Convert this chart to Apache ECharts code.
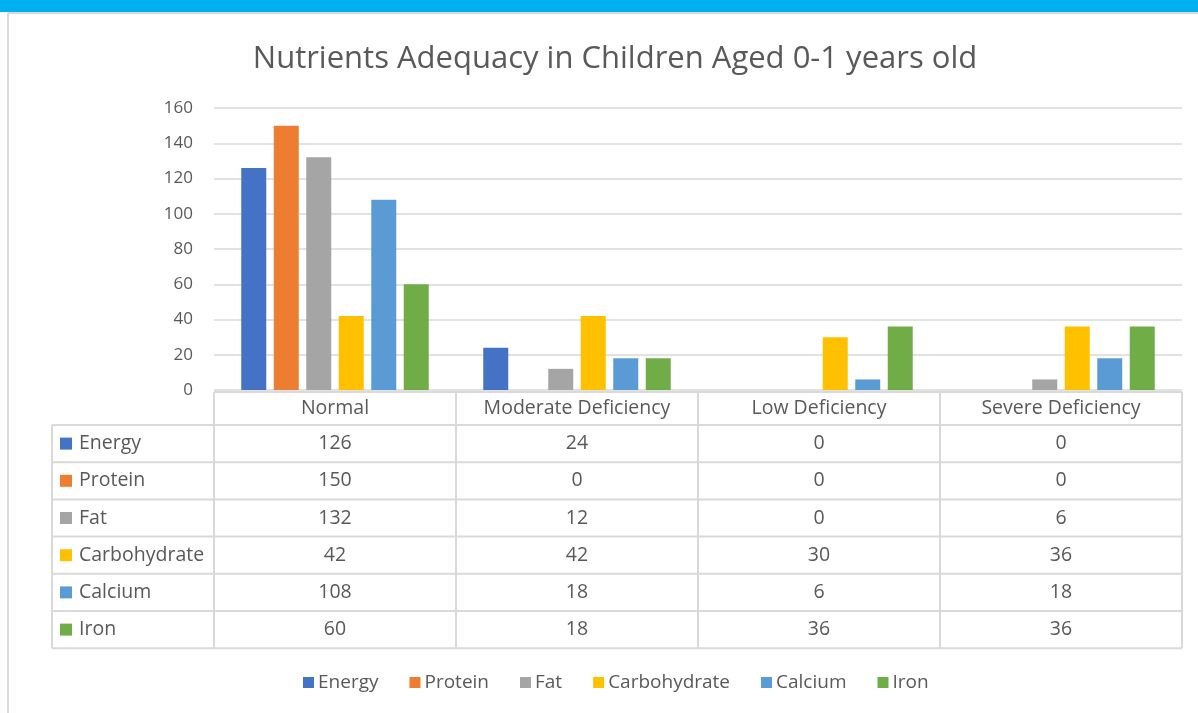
<!DOCTYPE html>
<html>
<head>
<meta charset="utf-8">
<script src="https://cdn.jsdelivr.net/npm/echarts@6/dist/echarts.min.js"></script>
<style>
  html, body { margin: 0; padding: 0; background: #fff; }
  #chart { width: 1198px; height: 713px; }
</style>
</head>
<body>
<div id="chart"></div>
<script>
// data
const categories = ['Normal', 'Moderate Deficiency', 'Low Deficiency', 'Severe Deficiency'];
const nutrients = ['Energy', 'Protein', 'Fat', 'Carbohydrate', 'Calcium', 'Iron'];
const energy = [126, 24, 0, 0];
const protein = [150, 0, 0, 0];
const fat = [132, 12, 0, 6];
const carbohydrate = [42, 42, 30, 36];
const calcium = [108, 18, 6, 18];
const iron = [60, 18, 36, 36];
const yMin = 0, yMax = 160, yStep = 20;

const values = [energy, protein, fat, carbohydrate, calcium, iron];
const colors = ['#4472C4', '#ED7D31', '#A5A5A5', '#FFC000', '#5B9BD5', '#70AD47'];
const textColor = '#595959';
const lineColor = '#d9d9d9';
const font = 'Open Sans';

let chart = echarts.init(document.getElementById('chart'));

let option = {
  backgroundColor: '#fff',
  animation: false,
  textStyle: { fontFamily: font },
  title: {
    text: 'Nutrients Adequacy in Children Aged 0-1 years old',
    left: 610,
    textAlign: 'center',
    top: 39,
    textStyle: { fontFamily: font, fontSize: 31, fontWeight: 'normal', color: textColor }
  },
  grid: { left: 214, right: 16, top: 108, bottom: 323, containLabel: false },
  xAxis: {
    type: 'category',
    data: categories,
    axisLine: { show: false },
    axisTick: { show: false },
    axisLabel: { show: false }
  },
  yAxis: {
    type: 'value',
    min: yMin, max: yMax, interval: yStep,
    axisLine: { show: false },
    axisTick: { show: false },
    axisLabel: { color: textColor, fontSize: 17, margin: 21 },
    splitLine: { lineStyle: { color: lineColor, width: 1.5 } }
  },
  legend: {
    bottom: 16,
    left: 298,
    itemWidth: 11,
    itemHeight: 11,
    itemGap: 31,
    icon: 'rect',
    textStyle: { color: textColor, fontSize: 19, padding: [0, 0, 0, -1] },
    data: nutrients
  },
  series: nutrients.map((n, i) => ({
    name: n,
    type: 'bar',
    data: values[i],
    barWidth: 25,
    barGap: '30%',
    itemStyle: { color: colors[i] }
  }))
};
chart.setOption(option);

// data table under the plot, positioned from the category axis
let c0 = chart.convertToPixel({ xAxisIndex: 0 }, 0);
let c1 = chart.convertToPixel({ xAxisIndex: 0 }, 1);
let band = c1 - c0;
let tLeft = 52, headTop = 392, headH = 33, rowH = 37.2;
let colStart = c0 - band / 2;
let colEnd = colStart + band * categories.length;
let tBottom = headTop + headH + rowH * nutrients.length;
let g = [];
let line = (x1, y1, x2, y2) => g.push({
  type: 'line', silent: true,
  shape: { x1, y1, x2, y2 },
  style: { stroke: lineColor, lineWidth: 2 }
});
let text = (x, y, s, align) => g.push({
  type: 'text', silent: true, x, y,
  style: { text: s, fill: textColor, font: '19.5px ' + font, align: align || 'center', verticalAlign: 'middle' }
});

// page frame
g.push({ type: 'rect', silent: true, shape: { x: 0, y: 0, width: 1198, height: 12 }, style: { fill: '#00B0F0' } });
line(8, 13, 1198, 13);
line(8, 13, 8, 713);

// horizontal lines
line(colStart, headTop, colEnd, headTop);
for (let r = 0; r <= nutrients.length; r++) {
  let y = headTop + headH + r * rowH;
  line(tLeft, y, colEnd, y);
}
// vertical lines
line(tLeft, headTop + headH, tLeft, tBottom);
for (let c = 0; c <= categories.length; c++) {
  let x = colStart + c * band;
  line(x, headTop, x, tBottom);
}
// header
categories.forEach((cat, c) => text(colStart + (c + 0.5) * band, headTop + headH / 2, cat));
// rows
nutrients.forEach((n, r) => {
  let yc = headTop + headH + (r + 0.5) * rowH;
  g.push({ type: 'rect', silent: true, shape: { x: 60, y: yc - 6, width: 12, height: 12 }, style: { fill: colors[r] } });
  text(79, yc, n, 'left');
  values[r].forEach((v, c) => text(colStart + (c + 0.5) * band, yc, String(v)));
});

chart.setOption({ graphic: g });
</script>
</body>
</html>
